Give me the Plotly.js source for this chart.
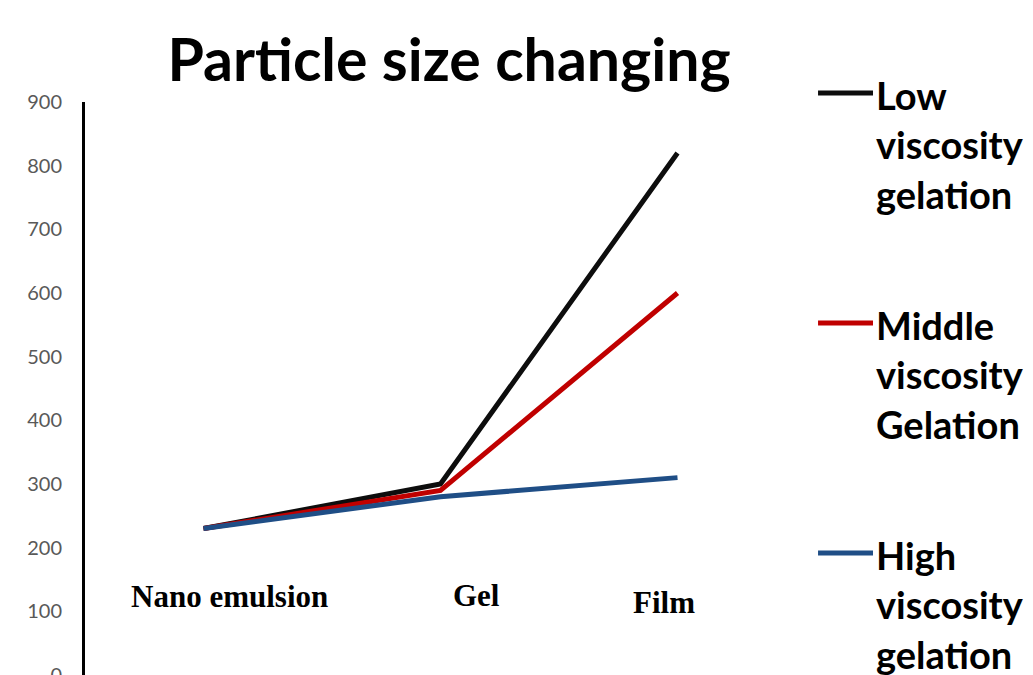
<!DOCTYPE html>
<html><head><meta charset="utf-8">
<script src="https://cdn.plot.ly/plotly-3.0.1.min.js"></script>
<style>html,body{margin:0;padding:0;background:#fff;overflow:hidden}#chart{width:1033px;height:675px}</style>
</head><body><div id="chart"></div>
<script>
const categories = ["Nano emulsion", "Gel", "Film"];
const lowViscosity = [230, 300, 820];
const middleViscosity = [230, 290, 600];
const highViscosity = [230, 280, 310];
const seriesNames = ["Low<br>viscosity<br>gelation", "Middle<br>viscosity<br>Gelation", "High<br>viscosity<br>gelation"];
const yTickValues = [0, 100, 200, 300, 400, 500, 600, 700, 800, 900];

const colors = ["#0d0d0d", "#c00000", "#1f4e86"];
const series = [lowViscosity, middleViscosity, highViscosity];

const traces = series.map((vals, i) => ({
  type: "scatter",
  mode: "lines",
  x: categories,
  y: vals,
  name: seriesNames[i],
  showlegend: false,
  line: {color: colors[i], width: 5},
  hoverinfo: "skip"
}));

// category labels drawn inside the plot (as in the original)
const labelStyle = [
  {y: 123, xshift: 26},
  {y: 125, xshift: 36},
  {y: 114, xshift: -14}
];
const annotations = categories.map((c, i) => ({
  x: c, y: labelStyle[i].y, xref: "x", yref: "y",
  xshift: labelStyle[i].xshift,
  text: c, showarrow: false,
  xanchor: "center", yanchor: "middle",
  font: {family: "Liberation Serif, Times New Roman, serif", size: 31, color: "#000", weight: "bold"}
}));

// legend (drawn manually so it can run past the bottom edge like the original)
const legendTextTop = [1.0558, 0.6545, 0.2531];
const legendLineY = [1.0157, 0.6143, 0.2129];
const shapes = [];
seriesNames.forEach((name, i) => {
  annotations.push({
    xref: "paper", yref: "paper", x: 1.1097, y: legendTextTop[i],
    xanchor: "left", yanchor: "top", align: "left",
    text: name, showarrow: false,
    font: {family: "Lato, Calibri, sans-serif", size: 38, color: "#000", weight: "bold"}
  });
  shapes.push({
    type: "line", xref: "paper", yref: "paper",
    x0: 1.031, x1: 1.1083, y0: legendLineY[i], y1: legendLineY[i],
    line: {color: colors[i], width: 5}
  });
});

const layout = {
  width: 1033, height: 675,
  margin: {l: 85, r: 237, t: 102, b: 0},
  paper_bgcolor: "#fff", plot_bgcolor: "#fff",
  title: {
    text: "<b>Particle size changing</b>",
    font: {family: "Lato, Calibri, sans-serif", size: 59, color: "#000"},
    x: 0.512, xref: "paper", xanchor: "center",
    y: 0.911, yanchor: "middle"
  },
  xaxis: {
    type: "category",
    range: [-0.5, 2.5],
    showline: false, showgrid: false, zeroline: false,
    showticklabels: false, ticks: ""
  },
  yaxis: {
    range: [0, 900],
    tickvals: yTickValues,
    showline: true, linecolor: "#000", linewidth: 3,
    showgrid: false, zeroline: false,
    ticks: "outside", ticklen: 16, tickcolor: "rgba(0,0,0,0)",
    ticklabeloverflow: "allow",
    tickfont: {family: "Lato, Calibri, sans-serif", size: 20, color: "#595959"}
  },
  showlegend: false,
  annotations: annotations,
  shapes: shapes
};

Plotly.newPlot("chart", traces, layout, {displayModeBar: false, staticPlot: true});
</script>
</body></html>
